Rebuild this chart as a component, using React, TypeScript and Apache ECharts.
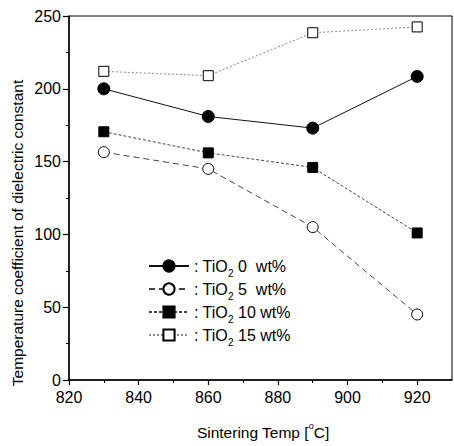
import React, { useEffect, useRef } from 'react';
import * as echarts from 'echarts';

const temps = [830, 860, 890, 920];
const tio2_0 = [200, 181, 173, 208.5];
const tio2_5 = [156.5, 145, 105, 45];
const tio2_10 = [170.5, 156, 146, 101];
const tio2_15 = [212, 209, 238.5, 242.5];
const seriesNames = ['TiO2 0 wt%', 'TiO2 5 wt%', 'TiO2 10 wt%', 'TiO2 15 wt%'];
const legendLabels = [': TiO{sub|2} 0  wt%', ': TiO{sub|2} 5  wt%', ': TiO{sub|2} 10 wt%', ': TiO{sub|2} 15 wt%'];
const xMajorTicks = [820, 840, 860, 880, 900, 920];
const xMinorTicks = [830, 850, 870, 890, 910];
const xTitle = 'Sintering Temp [{sup|o}C]';
const yTitle = 'Temperature coefficient of dielectric constant';

const FONT = '"Liberation Sans", Arial, sans-serif';

export default function App() {
  const ref = useRef<HTMLDivElement>(null);
  useEffect(() => {
    if (!ref.current) return;
    const chart = echarts.init(ref.current, null, { renderer: 'svg' });
    const pair = (vals: number[]) => temps.map((t, i) => [t, vals[i]]);
    const mk = (name: string, vals: number[], symbol: string, size: number, fill: string, lineColor: string, lineType: any) => ({
      name,
      type: 'line',
      data: pair(vals),
      symbol,
      symbolSize: size,
      showSymbol: true,
      itemStyle: { color: fill, borderColor: '#000', borderWidth: 1 },
      lineStyle: { color: lineColor, width: 1, type: lineType },
      emphasis: { disabled: true },
      z: 3,
    });
    chart.setOption({
      animation: false,
      textStyle: { fontFamily: FONT },
      grid: { left: 69, right: 2, top: 16, bottom: 66, show: true, borderColor: '#000', borderWidth: 1 },
      xAxis: [
        {
          type: 'value',
          min: 820,
          max: 930,
          axisLine: { show: true, lineStyle: { color: '#000', width: 1.5 } },
          axisTick: { show: true, length: 5, customValues: xMajorTicks, lineStyle: { color: '#000', width: 1.2 } },
          axisLabel: { customValues: xMajorTicks, color: '#000', fontSize: 16, margin: 9, fontFamily: FONT },
          splitLine: { show: false },
        },
        {
          type: 'value',
          min: 820,
          max: 930,
          position: 'bottom',
          axisLine: { show: false },
          axisTick: { show: true, length: 3, customValues: xMinorTicks, lineStyle: { color: '#000', width: 1 } },
          axisLabel: { show: false },
          splitLine: { show: false },
        },
      ],
      yAxis: {
        type: 'value',
        min: 0,
        max: 250,
        interval: 50,
        axisLine: { show: true, lineStyle: { color: '#000', width: 1.5 } },
        axisTick: { show: true, length: 6, lineStyle: { color: '#000', width: 1.2 } },
        minorTick: { show: true, splitNumber: 2, length: 3, lineStyle: { color: '#000', width: 1 } },
        axisLabel: { color: '#000', fontSize: 16, margin: 8, fontFamily: FONT },
        splitLine: { show: false },
      },
      legend: {
        left: 143,
        top: 253,
        orient: 'vertical',
        itemWidth: 40,
        itemHeight: 14,
        itemGap: 3,
        selectedMode: false,
        data: seriesNames,
        formatter: (name: string) => legendLabels[seriesNames.indexOf(name)],
        textStyle: {
          color: '#000',
          fontSize: 16,
          fontFamily: FONT,
          rich: {
            sub: { fontSize: 10, lineHeight: 24, verticalAlign: 'bottom', color: '#000', fontFamily: FONT },
          },
        },
      },
      graphic: [
        {
          type: 'text',
          x: 17,
          y: 233,
          rotation: Math.PI / 2,
          style: { text: yTitle, fontSize: 15.5, fontFamily: FONT, fill: '#000', align: 'center', verticalAlign: 'middle' },
        },
        {
          type: 'text',
          x: 263,
          y: 432,
          style: {
            text: xTitle,
            fontSize: 15.5,
            fontFamily: FONT,
            fill: '#000',
            align: 'center',
            verticalAlign: 'middle',
            rich: { sup: { fontSize: 9, verticalAlign: 'top', lineHeight: 22, fill: '#000', fontFamily: FONT } },
          },
        },
      ],
      series: [
        mk(seriesNames[0], tio2_0, 'circle', 12, '#000', '#111', 'solid'),
        mk(seriesNames[1], tio2_5, 'circle', 11, '#fff', '#444', [6, 4]),
        mk(seriesNames[2], tio2_10, 'rect', 10, '#000', '#444', [3, 2]),
        mk(seriesNames[3], tio2_15, 'rect', 10, '#fff', '#888', [2, 2]),
      ],
    });
    return () => chart.dispose();
  }, []);
  return <div ref={ref} style={{ width: 454, height: 446, position: 'absolute', left: 0, top: 0 }} />;
}
